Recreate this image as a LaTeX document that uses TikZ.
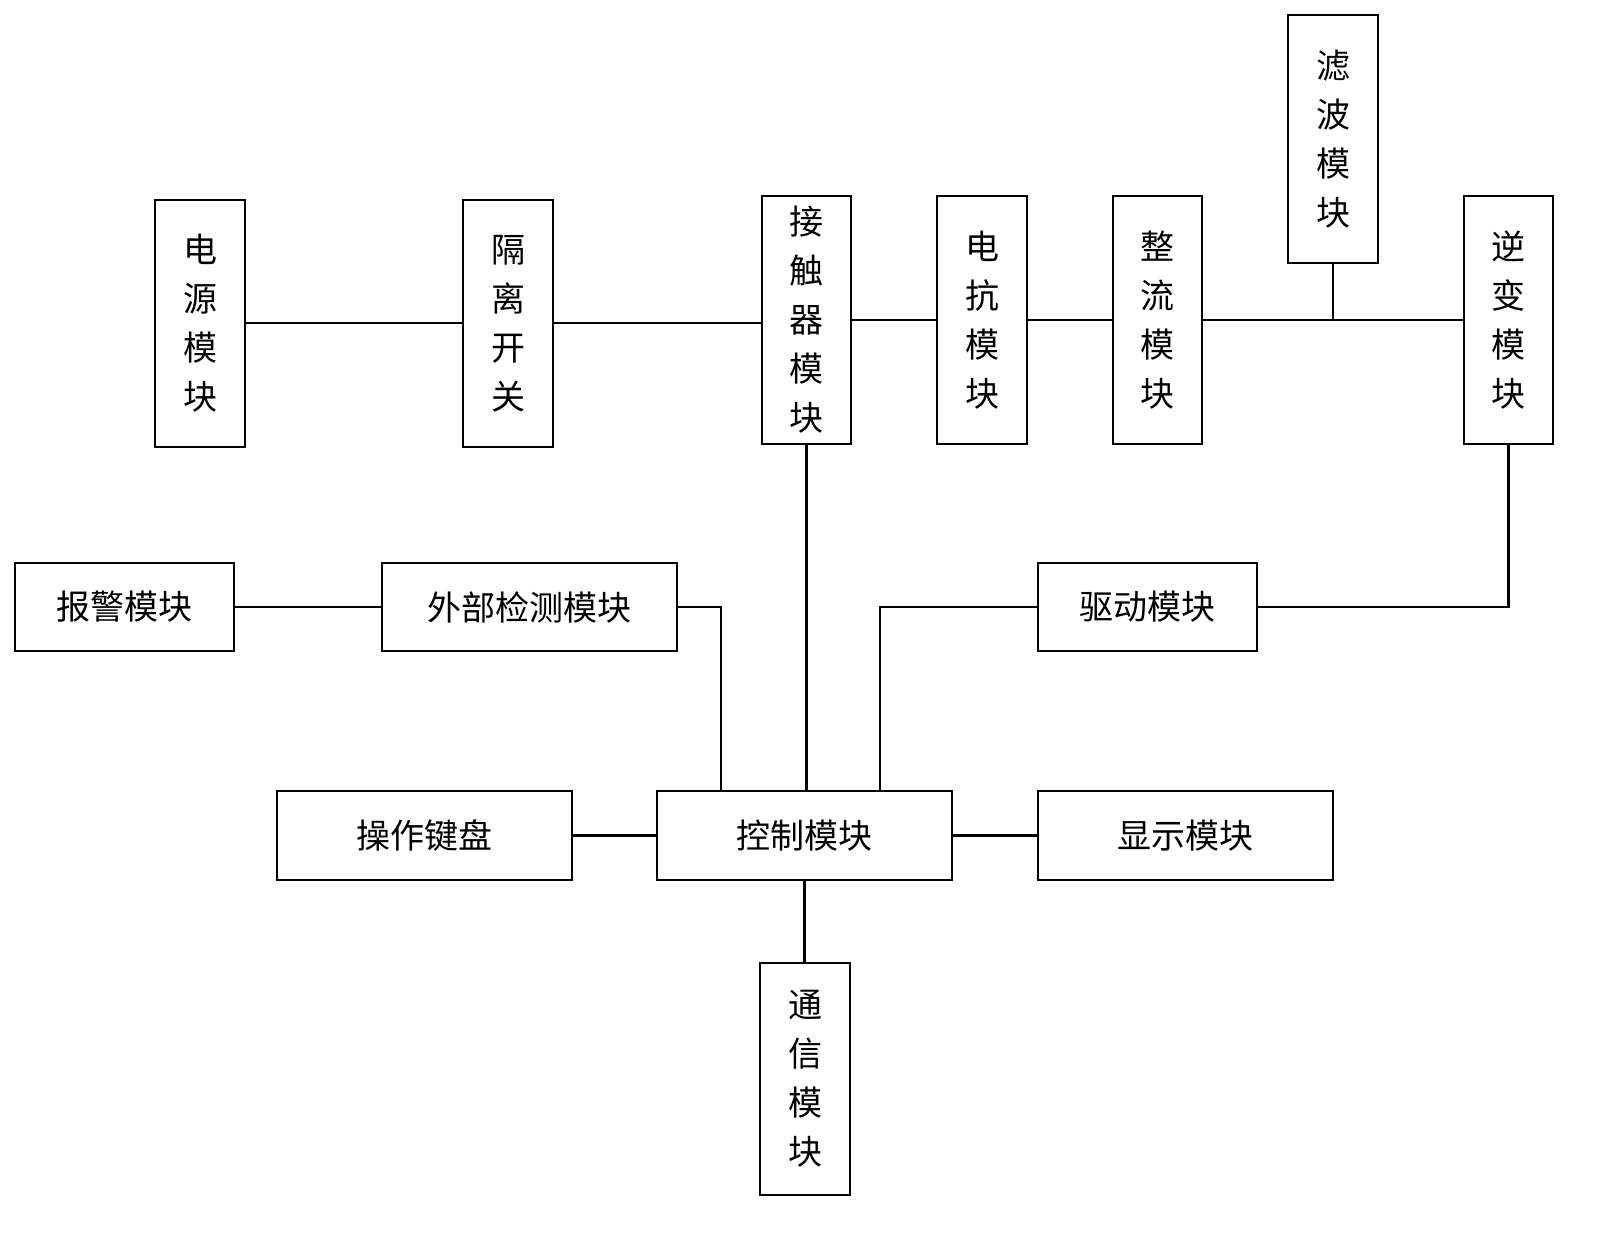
\documentclass[tikz,border=0pt]{standalone}
\usepackage{fontspec}
\setmainfont{Noto Sans CJK SC}
\begin{document}
\begin{tikzpicture}[x=1pt,y=-1pt,
 bx/.style={draw,line width=2pt,inner sep=0pt,align=center,font=\fontsize{34}{49}\selectfont},
 ln/.style={line width=2.5pt}]
\useasboundingbox (0,0) rectangle (1624,1251);
\newcommand{\bxat}[6]{\node[bx,minimum width=#4-#2,minimum height=#5-#3] (#1) at ({(#2+#4)/2},{(#3+#5)/2}) {#6};}
\bxat{dy}{155}{200}{245}{447}{电\\源\\模\\块}
\bxat{gl}{463}{200}{553}{447}{隔\\离\\开\\关}
\bxat{jc}{762}{196}{851}{444}{接\\触\\器\\模\\块}
\bxat{dk}{937}{196}{1027}{444}{电\\抗\\模\\块}
\bxat{zl}{1113}{196}{1202}{444}{整\\流\\模\\块}
\bxat{lb}{1288}{15}{1378}{263}{滤\\波\\模\\块}
\bxat{nb}{1464}{196}{1553}{444}{逆\\变\\模\\块}
\bxat{bj}{15}{563}{234}{651}{报警模块}
\bxat{wb}{382}{563}{677}{651}{外部检测模块}
\bxat{qd}{1038}{563}{1257}{651}{驱动模块}
\bxat{cz}{277}{791}{572}{880}{操作键盘}
\bxat{kz}{657}{791}{952}{880}{控制模块}
\bxat{xs}{1038}{791}{1333}{880}{显示模块}
\bxat{tx}{760}{963}{850}{1195}{通\\信\\模\\块}
\coordinate (fj) at (1333,320);
\draw[ln] (dy.east |- 0,323) -- (gl.west |- 0,323);
\draw[ln] (gl.east |- 0,323) -- (jc.west |- 0,323);
\draw[ln] (jc.east |- 0,320) -- (dk.west |- 0,320);
\draw[ln] (dk.east |- 0,320) -- (zl.west |- 0,320);
\draw[ln] (zl.east |- 0,320) -- (nb.west |- 0,320);
\draw[ln] (lb.south) -- (fj);
\draw[ln] (jc.south) -- (jc.south |- kz.north);
\draw[ln] (wb.east) -| (721,791);
\draw[ln] (qd.west) -| (880,791);
\draw[ln] (nb.south) |- (qd.east);
\draw[ln] (bj) -- (wb);
\draw[ln] (cz) -- (kz);
\draw[ln] (kz) -- (xs);
\draw[ln] (kz.south) -- (tx.north -| kz.south);
\end{tikzpicture}
\end{document}
